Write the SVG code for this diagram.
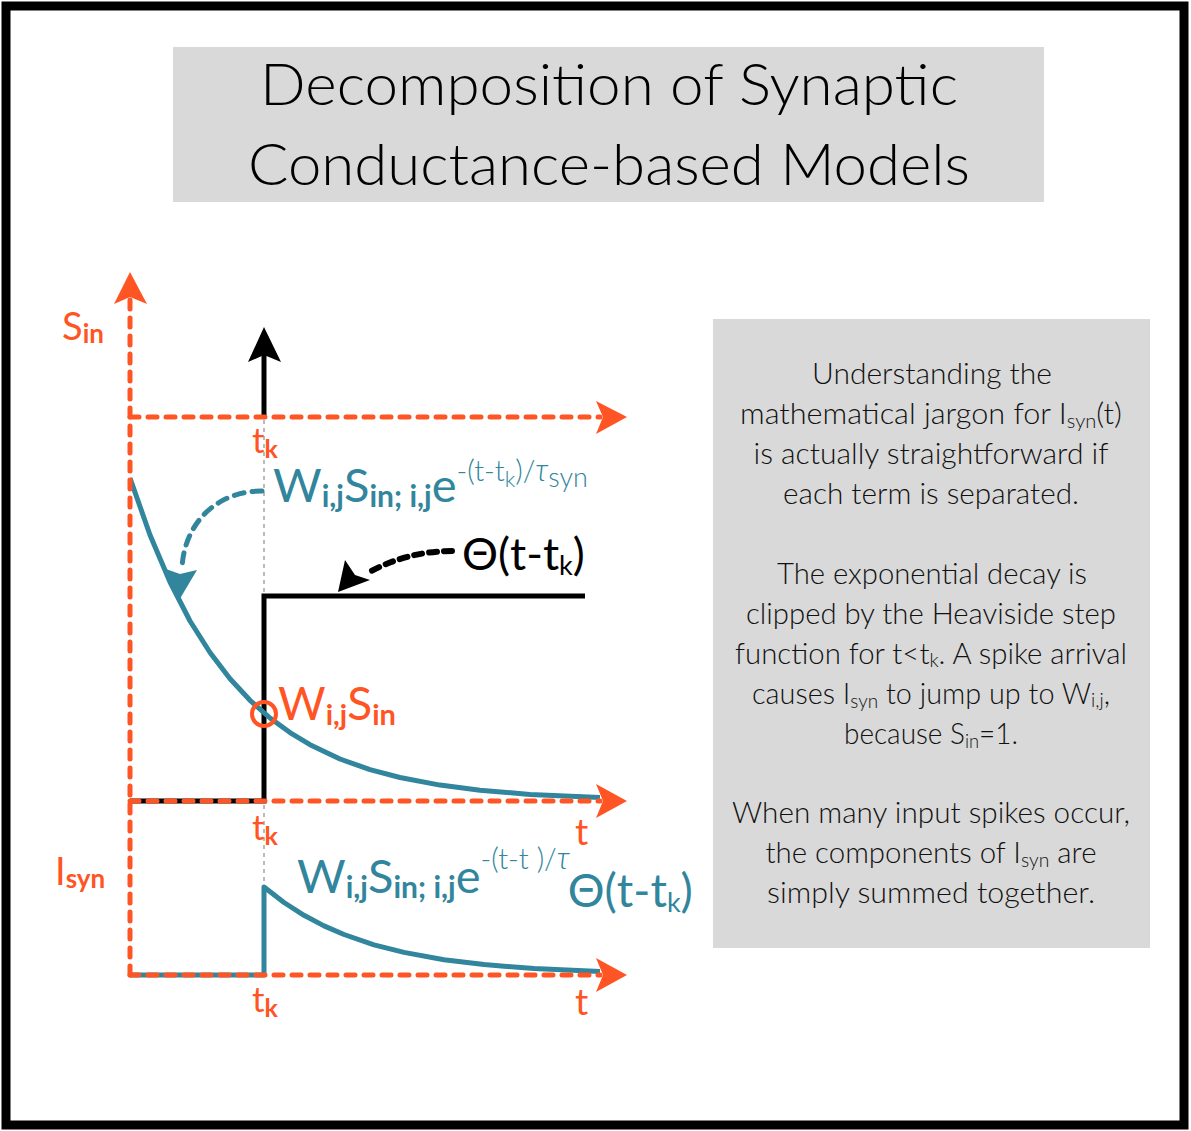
<svg xmlns="http://www.w3.org/2000/svg" width="1191" height="1131" viewBox="0 0 1191 1131">
<style>
.frame{fill:#fff;stroke:#000;stroke-width:9}
.box{fill:#d9d9d9}
.title{font-family:Lato,"Open Sans",sans-serif;font-size:58px;font-weight:300;fill:#000;text-anchor:middle}
.body{font-family:Lato,"Open Sans",sans-serif;font-size:29px;font-weight:300;fill:#111;text-anchor:middle}
.sub{font-size:19px}
.ax{fill:none;stroke:#FF5424;stroke-width:5;stroke-dasharray:9 9;stroke-linecap:round}
.axh{fill:#FF5424}
.or{font-family:Lato,"Open Sans",sans-serif;fill:#FF5424}
.tl{font-family:Lato,"Open Sans",sans-serif;fill:#31859C}
.bk{font-family:Lato,"Open Sans",sans-serif;fill:#000}
.teal{fill:none;stroke:#31859C;stroke-width:5;stroke-linejoin:round}
.blk{fill:none;stroke:#000;stroke-width:5}
.guide{fill:none;stroke:#bbb;stroke-width:2;stroke-dasharray:4 4}
</style>
<rect class="frame" x="6" y="6" width="1178" height="1119"/>
<g id="title">
<rect class="box" x="173" y="47" width="871" height="155"/>
<text class="title" x="609" y="105" textLength="698" lengthAdjust="spacingAndGlyphs">Decomposition of Synaptic</text>
<text class="title" x="609" y="185" textLength="722" lengthAdjust="spacingAndGlyphs">Conductance-based Models</text>
</g>
<g id="explanation">
<rect class="box" x="713" y="319" width="437" height="629"/>
<text class="body" x="932" y="384" textLength="240" lengthAdjust="spacingAndGlyphs">Understanding the</text>
<text class="body" x="931" y="424" textLength="382" lengthAdjust="spacingAndGlyphs">mathematical jargon for I<tspan class="sub" dy="4">syn</tspan><tspan dy="-4">(t)</tspan></text>
<text class="body" x="931" y="464" textLength="355" lengthAdjust="spacingAndGlyphs">is actually straightforward if</text>
<text class="body" x="931" y="504" textLength="296" lengthAdjust="spacingAndGlyphs">each term is separated.</text>
<text class="body" x="932" y="584" textLength="310" lengthAdjust="spacingAndGlyphs">The exponential decay is</text>
<text class="body" x="931" y="624" textLength="370" lengthAdjust="spacingAndGlyphs">clipped by the Heaviside step</text>
<text class="body" x="931" y="664" textLength="392" lengthAdjust="spacingAndGlyphs">function for t&lt;t<tspan class="sub" dy="3">k</tspan><tspan dy="-3">. A spike arrival</tspan></text>
<text class="body" x="931" y="704" textLength="358" lengthAdjust="spacingAndGlyphs">causes I<tspan class="sub" dy="4">syn</tspan><tspan dy="-4"> to jump up to W</tspan><tspan class="sub" dy="3">i,j</tspan><tspan dy="-3">,</tspan></text>
<text class="body" x="931" y="744" textLength="174" lengthAdjust="spacingAndGlyphs">because S<tspan class="sub" dy="4">in</tspan><tspan dy="-4">=1.</tspan></text>
<text class="body" x="931" y="823" textLength="398" lengthAdjust="spacingAndGlyphs">When many input spikes occur,</text>
<text class="body" x="931" y="863" textLength="331" lengthAdjust="spacingAndGlyphs">the components of I<tspan class="sub" dy="4">syn</tspan><tspan dy="-4"> are</tspan></text>
<text class="body" x="931" y="903" textLength="328" lengthAdjust="spacingAndGlyphs">simply summed together.</text>
</g>
<g id="connectors">
<line class="guide" x1="264" y1="420" x2="264" y2="800"/>
<line class="guide" x1="264" y1="805" x2="264" y2="888"/>
<!-- black step (Heaviside) -->
<polyline class="blk" points="130,801 264,801 264,596 585,596"/>
<!-- black spike arrow -->
<line class="blk" x1="264" y1="417" x2="264" y2="350"/>
<path d="M264,327 L281,362 L264,355 L248,362 Z" fill="#000"/>
<!-- teal decay -->
<polyline class="teal" points="130,478 150,535 170,582 190,621 210,652.5 230,678.7 250,700.3 270,718 290,732.6 310,744.7 340,759 370,769.6 400,777.5 440,785.1 480,790.2 530,794.4 600,797.6"/>
<!-- lower teal -->
<polyline class="teal" points="130,975 264,975 264,887 284,902.5 304,915.3 324,925.9 344,934.5 374,944.8 404,952.4 444,959.7 484,964.6 534,968.6 600,971.6"/>
<!-- orange axes -->
<line class="ax" x1="130" y1="975" x2="130" y2="300"/>
<path class="axh" d="M130,272 L147,304 L130,297 L114,304 Z"/>
<line class="ax" x1="130" y1="417" x2="600" y2="417"/>
<path class="axh" d="M627,417 L596,434 L603,417 L596,401 Z"/>
<line class="ax" x1="130" y1="801" x2="600" y2="801"/>
<path class="axh" d="M627,801 L596,818 L603,801 L596,784 Z"/>
<line class="ax" x1="130" y1="975" x2="600" y2="975"/>
<path class="axh" d="M627,975 L596,992 L603,975 L596,958 Z"/>
<!-- circle -->
<circle cx="264" cy="714" r="12" fill="none" stroke="#FF5424" stroke-width="4"/>
<!-- teal dashed annotation arrow -->
<path d="M262,491 C 215,491 184,525 182,568" fill="none" stroke="#31859C" stroke-width="5" stroke-dasharray="10 8" stroke-linecap="round"/>
<path d="M178,602 L163,568 L180,574 L197,570 Z" fill="#31859C"/>
<!-- black dashed annotation arrow -->
<path d="M452,551 C 420,551 390,560 368,573" fill="none" stroke="#000" stroke-width="6" stroke-dasharray="8 7" stroke-linecap="round"/>
<path d="M338,592 L345,560 L355,575 L370,580 Z" fill="#000"/>
</g>
<g id="labels">
<text class="or" x="62" y="340" font-size="38">S<tspan font-size="26" font-weight="bold" dy="3">in</tspan></text>
<text class="or" x="55" y="885" font-size="38">I<tspan font-size="26" font-weight="bold" dy="3">syn</tspan></text>
<text class="or" x="252" y="453" font-size="35">t<tspan font-size="25" font-weight="bold" dy="5">k</tspan></text>
<text class="or" x="252" y="840" font-size="35">t<tspan font-size="25" font-weight="bold" dy="5">k</tspan></text>
<text class="or" x="252" y="1012" font-size="35">t<tspan font-size="25" font-weight="bold" dy="5">k</tspan></text>
<text class="or" x="575" y="845" font-size="37">t</text>
<text class="or" x="575" y="1015" font-size="37">t</text>
<text class="or" x="278" y="720" font-size="46">W<tspan font-size="29" font-weight="bold" dy="5">i,j</tspan><tspan dy="-5">S</tspan><tspan font-size="29" font-weight="bold" dy="5">in</tspan></text>
<text class="tl" x="273" y="502" font-size="47">W<tspan font-size="30" font-weight="bold" dy="5">i,j</tspan><tspan dy="-5">S</tspan><tspan font-size="30" font-weight="bold" dy="5">in; i,j</tspan><tspan dy="-5">e</tspan><tspan font-size="29" font-weight="300" dy="-21">-(t-t</tspan><tspan font-size="22" font-weight="300" dy="6">k</tspan><tspan font-size="29" font-weight="300" dy="-6">)/</tspan><tspan font-size="31" font-style="italic" font-weight="300">τ</tspan><tspan font-size="27" font-weight="300" dy="6">syn</tspan></text>
<text class="bk" x="462" y="570" font-size="45">Θ(t-t<tspan font-size="27" dy="5">k</tspan><tspan dy="-5">)</tspan></text>
<text class="tl" x="297" y="893" font-size="47">W<tspan font-size="30" font-weight="bold" dy="5">i,j</tspan><tspan dy="-5">S</tspan><tspan font-size="30" font-weight="bold" dy="5">in; i,j</tspan><tspan dy="-5">e</tspan><tspan font-size="29" font-weight="300" dy="-24">-(t-t   )/</tspan><tspan font-size="31" font-style="italic" font-weight="300">τ</tspan><tspan font-size="46" dx="-2" dy="38">Θ(t-t</tspan><tspan font-size="27" dy="5">k</tspan><tspan font-size="46" dy="-5">)</tspan></text>
</g>
</svg>
